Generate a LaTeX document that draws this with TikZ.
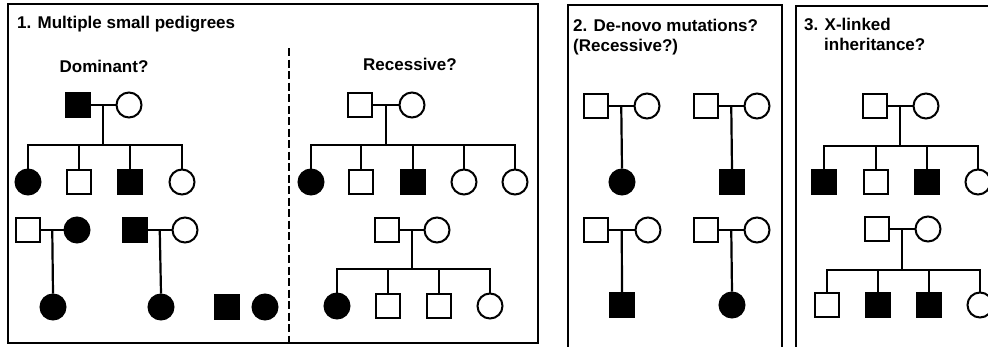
\documentclass[tikz,border=0pt]{standalone}
\usepackage{fontspec}
\setmainfont{Liberation Sans}
\usetikzlibrary{calc}
\tikzset{
  panel/.style={draw=black, line width=2.6pt},
  ttl/.style={font=\fontsize{17}{20}\selectfont\bfseries, inner sep=0pt},
  male/.style={rectangle, draw=black, line width=2pt, minimum size=24pt, inner sep=0pt, fill=white},
  female/.style={circle, draw=black, line width=2pt, minimum size=25pt, inner sep=0pt, fill=white},
  aff/.style={fill=black},
  link/.style={draw=black, line width=2.2pt},
}
\begin{document}
\begin{tikzpicture}[x=1pt, y=-1pt]
\useasboundingbox (0,0) rectangle (988,346);
\clip (0,0) rectangle (988,346);
% panels
\draw[panel] (8,4) rectangle (538,343);
\draw[panel] (568,5) rectangle (782,370);
\draw[panel] (796,6) rectangle (1010,370);
\draw[black, line width=1.8pt, dash pattern=on 8pt off 3.5pt] (289,48) -- (289,346);
% titles
\node[ttl, anchor=base west] (t1) at (17,28) {1. Multiple small pedigrees};
\node[ttl, anchor=base] (tdom) at (104,72) {Dominant?};
\node[ttl, anchor=base] (trec) at (410,70) {Recessive?};
\node[ttl, anchor=base west] (t2a) at (573,31) {2. De-novo mutations?};
\node[ttl, anchor=base west] (t2b) at (573,51) {(Recessive?)};
\node[ttl, anchor=base west] (t3a) at (804,30) {3. X-linked};
\node[ttl, anchor=base west] (t3b) at (824,50) {inheritance?};

% ===== Dominant pedigree 1
\node[male, aff] (d1f) at (78,105) {};
\node[female] (d1m) at (129,105) {};
\node[female, aff] (d1c1) at (28,182) {};
\node[male] (d1c2) at (79,182) {};
\node[male, aff] (d1c3) at (130,182) {};
\node[female] (d1c4) at (182,182) {};
\coordinate (d1mid) at ($(d1f.east)!.5!(d1m.west)$);
\coordinate (d1s) at (d1mid |- 0,145);
\draw[link] (d1f.east) -- (d1m.west);
\draw[link] (d1mid) -- (d1s);
\draw[link] (d1c1.north) |- (d1c4.north |- d1s) -- (d1c4.north);
\draw[link] (d1c2.north) -- (d1c2.north |- d1s);
\draw[link] (d1c3.north) -- (d1c3.north |- d1s);

% Dominant pedigree 2
\node[male] (d2f) at (28,230) {};
\node[female, aff] (d2m) at (77,230) {};
\node[female, aff] (d2c) at (53,307) {};
\coordinate (d2mid) at ($(d2f.east)!.5!(d2m.west)$);
\draw[link] (d2f.east) -- (d2m.west);
\draw[link] (d2mid) -- (d2c.north);

% Dominant pedigree 3
\node[male, aff] (d3f) at (135,230) {};
\node[female] (d3m) at (185,230) {};
\node[female, aff] (d3c) at (161,307) {};
\coordinate (d3mid) at ($(d3f.east)!.5!(d3m.west)$);
\draw[link] (d3f.east) -- (d3m.west);
\draw[link] (d3mid) -- (d3c.north);

% singletons
\node[male, aff] (d4) at (227,307) {};
\node[female, aff] (d5) at (265,307) {};

% ===== Recessive pedigree 1
\node[male] (r1f) at (360,105) {};
\node[female] (r1m) at (412,105) {};
\node[female, aff] (r1c1) at (311,182) {};
\node[male] (r1c2) at (361,182) {};
\node[male, aff] (r1c3) at (413,182) {};
\node[female] (r1c4) at (464,182) {};
\node[female] (r1c5) at (515,182) {};
\coordinate (r1mid) at ($(r1f.east)!.5!(r1m.west)$);
\coordinate (r1s) at (r1mid |- 0,145);
\draw[link] (r1f.east) -- (r1m.west);
\draw[link] (r1mid) -- (r1s);
\draw[link] (r1c1.north) |- (r1c5.north |- r1s) -- (r1c5.north);
\draw[link] (r1c2.north) -- (r1c2.north |- r1s);
\draw[link] (r1c3.north) -- (r1c3.north |- r1s);
\draw[link] (r1c4.north) -- (r1c4.north |- r1s);

% Recessive pedigree 2
\node[male] (r2f) at (387,230) {};
\node[female] (r2m) at (437,230) {};
\node[female, aff] (r2c1) at (337,306) {};
\node[male] (r2c2) at (388,306) {};
\node[male] (r2c3) at (439,306) {};
\node[female] (r2c4) at (490,306) {};
\coordinate (r2mid) at ($(r2f.east)!.5!(r2m.west)$);
\coordinate (r2s) at (r2mid |- 0,269);
\draw[link] (r2f.east) -- (r2m.west);
\draw[link] (r2mid) -- (r2s);
\draw[link] (r2c1.north) |- (r2c4.north |- r2s) -- (r2c4.north);
\draw[link] (r2c2.north) -- (r2c2.north |- r2s);
\draw[link] (r2c3.north) -- (r2c3.north |- r2s);

% ===== Panel 2
\node[male] (n1f) at (596,106) {};
\node[female] (n1m) at (647,106) {};
\node[female, aff] (n1c) at (622,182) {};
\coordinate (n1mid) at ($(n1f.east)!.5!(n1m.west)$);
\draw[link] (n1f.east) -- (n1m.west);
\draw[link] (n1mid) -- (n1c.north);

\node[male] (n2f) at (706,106) {};
\node[female] (n2m) at (757,106) {};
\node[male, aff] (n2c) at (732,182) {};
\coordinate (n2mid) at ($(n2f.east)!.5!(n2m.west)$);
\draw[link] (n2f.east) -- (n2m.west);
\draw[link] (n2mid) -- (n2c.north);

\node[male] (n3f) at (596,230) {};
\node[female] (n3m) at (648,230) {};
\node[male, aff] (n3c) at (622,305) {};
\coordinate (n3mid) at ($(n3f.east)!.5!(n3m.west)$);
\draw[link] (n3f.east) -- (n3m.west);
\draw[link] (n3mid) -- (n3c.north);

\node[male] (n4f) at (706,230) {};
\node[female] (n4m) at (757,230) {};
\node[female, aff] (n4c) at (732,305) {};
\coordinate (n4mid) at ($(n4f.east)!.5!(n4m.west)$);
\draw[link] (n4f.east) -- (n4m.west);
\draw[link] (n4mid) -- (n4c.north);

% ===== Panel 3
\node[male] (x1f) at (875,106) {};
\node[female] (x1m) at (926,106) {};
\node[male, aff] (x1c1) at (824,182) {};
\node[male] (x1c2) at (876,182) {};
\node[male, aff] (x1c3) at (927,182) {};
\node[female] (x1c4) at (978,182) {};
\coordinate (x1mid) at ($(x1f.east)!.5!(x1m.west)$);
\coordinate (x1s) at (x1mid |- 0,146);
\draw[link] (x1f.east) -- (x1m.west);
\draw[link] (x1mid) -- (x1s);
\draw[link] (x1c1.north) |- (x1c4.north |- x1s) -- (x1c4.north);
\draw[link] (x1c2.north) -- (x1c2.north |- x1s);
\draw[link] (x1c3.north) -- (x1c3.north |- x1s);

\node[male] (x2f) at (877,229) {};
\node[female] (x2m) at (928,229) {};
\node[male] (x2c1) at (827,305) {};
\node[male, aff] (x2c2) at (878,305) {};
\node[male, aff] (x2c3) at (929,305) {};
\node[female] (x2c4) at (980,305) {};
\coordinate (x2mid) at ($(x2f.east)!.5!(x2m.west)$);
\coordinate (x2s) at (x2mid |- 0,270);
\draw[link] (x2f.east) -- (x2m.west);
\draw[link] (x2mid) -- (x2s);
\draw[link] (x2c1.north) |- (x2c4.north |- x2s) -- (x2c4.north);
\draw[link] (x2c2.north) -- (x2c2.north |- x2s);
\draw[link] (x2c3.north) -- (x2c3.north |- x2s);
\end{tikzpicture}
\end{document}
